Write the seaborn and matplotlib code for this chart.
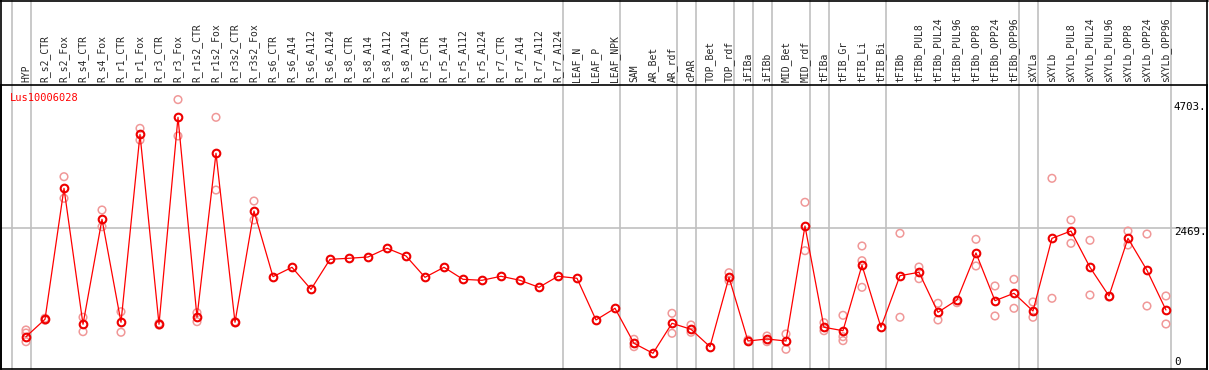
import matplotlib
matplotlib.use("Agg")
import matplotlib.pyplot as plt
import seaborn as sns
import pandas as pd
from matplotlib.lines import Line2D

categories = ["HYP", "R_s2_CTR", "R_s2_Fox", "R_s4_CTR", "R_s4_Fox", "R_r1_CTR", "R_r1_Fox",
              "R_r3_CTR", "R_r3_Fox", "R_r1s2_CTR", "R_r1s2_Fox", "R_r3s2_CTR", "R_r3s2_Fox",
              "R_s6_CTR", "R_s6_A14", "R_s6_A112", "R_s6_A124", "R_s8_CTR", "R_s8_A14", "R_s8_A112",
              "R_s8_A124", "R_r5_CTR", "R_r5_A14", "R_r5_A112", "R_r5_A124", "R_r7_CTR", "R_r7_A14",
              "R_r7_A112", "R_r7_A124", "LEAF_N", "LEAF_P", "LEAF_NPK", "SAM", "AR_Bet", "AR_rdf",
              "cPAR", "TOP_Bet", "TOP_rdf", "iFIBa", "iFIBb", "MID_Bet", "MID_rdf", "tFIBa",
              "tFIB_Gr", "tFIB_Li", "tFIB_Bi", "tFIBb", "tFIBb_PUL8", "tFIBb_PUL24", "tFIBb_PUL96",
              "tFIBb_OPP8", "tFIBb_OPP24", "tFIBb_OPP96", "sXYLa", "sXYLb", "sXYLb_PUL8",
              "sXYLb_PUL24", "sXYLb_PUL96", "sXYLb_OPP8", "sXYLb_OPP24", "sXYLb_OPP96"]

means = [579, 882, 3160, 795, 2621, 830, 4099, 795, 4395, 917, 3769, 830, 2765,
         1623, 1786, 1403, 1925, 1943, 1965, 2117, 1983, 1612, 1786, 1577, 1560,
         1630, 1560, 1438, 1630, 1595, 870, 1073, 464, 290, 812, 708, 405, 1612,
         504, 539, 504, 2504, 743, 683, 1821, 743, 1640, 1699, 1003, 1217, 2035,
         1205, 1334, 1026, 2290, 2417, 1786, 1287, 2290, 1734, 1043]

replicates = {
    "HYP": [696, 643, 492], "R_s2_CTR": [900, 865], "R_s2_Fox": [3362, 2986],
    "R_s4_CTR": [917, 666], "R_s4_Fox": [2783, 2492], "R_r1_CTR": [1014, 656],
    "R_r1_Fox": [4203, 4000], "R_r3_CTR": [810, 780], "R_r3_Fox": [4703, 4070],
    "R_r1s2_CTR": [997, 840], "R_r1s2_Fox": [4395, 3130], "R_r3s2_CTR": [840, 820],
    "R_r3s2_Fox": [2939, 2609], "SAM": [534, 405], "AR_rdf": [986, 638],
    "cPAR": [783, 656], "TOP_rdf": [1692, 1553], "iFIBa": [522], "iFIBb": [591, 492],
    "MID_Bet": [626, 360], "MID_rdf": [2917, 2075], "tFIBa": [823, 683],
    "tFIB_Gr": [951, 579, 510], "tFIB_Li": [2157, 1901, 1438], "tFIBb": [2377, 917],
    "tFIBb_PUL8": [1791, 1588], "tFIBb_PUL24": [1160, 870], "tFIBb_PUL96": [1170],
    "tFIBb_OPP8": [2273, 1809], "tFIBb_OPP24": [1461, 939], "tFIBb_OPP96": [1577, 1073],
    "sXYLa": [1183, 917], "sXYLb": [3334, 1247], "sXYLb_PUL8": [2609, 2203],
    "sXYLb_PUL24": [2256, 1304], "sXYLb_PUL96": [1270], "sXYLb_OPP8": [2417, 2174],
    "sXYLb_OPP24": [2365, 1113], "sXYLb_OPP96": [1287, 800],
}

group_ends = [-1, 0, 28, 31, 34, 35, 37, 38, 39, 41, 42, 45, 52, 53, 60]
y_tick_labels = ["4703.", "2469.", "0"]
gene_name = "Lus10006028"

W, H = 1209, 370
mean_df = pd.DataFrame({"idx": range(len(categories)), "value": means})
rep_rows = [(categories.index(c), v) for c, vals in replicates.items() for v in vals]
rep_df = pd.DataFrame(rep_rows, columns=["idx", "value"])

sns.set_style("white")
plt.rcParams["font.family"] = ["DejaVu Sans Mono"]

fig = plt.figure(figsize=(W / 100, H / 100), dpi=100)
ax = fig.add_axes([1 / W, 1 - 369 / H, 1206 / W, 284 / H])

# grid lines
for g in group_ends:
    ax.axvline(g + 0.25, ymin=0, ymax=1 + 85 / 284, color="#c0c0c0", lw=1.2,
               clip_on=False, zorder=0)
ax.axhline(2469, color="#c0c0c0", lw=1.2, zorder=0)

sns.scatterplot(data=rep_df, x="idx", y="value", ax=ax, marker="o", s=30,
                facecolor="none", edgecolor="#f09898", linewidth=1.1, zorder=2)
sns.lineplot(data=mean_df, x="idx", y="value", ax=ax, color="#ff0000", lw=0.9,
             marker="o", markersize=5.5, markerfacecolor="none",
             markeredgecolor="#ee0000", markeredgewidth=1.5, zorder=3)

ax.set_xlim(-1.316, 62.16)
ax.set_ylim(17, 4957)
ax.set_xlabel("")
ax.set_ylabel("")
ax.set_yticks([])
ax.xaxis.tick_top()
ax.set_xticks(range(len(categories)))
ax.set_xticklabels(categories, rotation=90, fontsize=7, family="DejaVu Sans Mono")
ax.tick_params(axis="x", length=0, pad=2)
for s in ax.spines.values():
    s.set_color("black")
    s.set_linewidth(1.2)

ax.text(0.0075, 0.955, gene_name, transform=ax.transAxes, color="#ff0000",
        fontsize=7.5, va="center", ha="left", family="DejaVu Sans Mono")

for lbl, ypx in zip(y_tick_labels, [107, 232, 362]):
    fig.text(1174 / W, 1 - ypx / H, lbl, fontsize=7.8, va="center", ha="left",
             family="DejaVu Sans Mono", color="black")

# outer frame
fig.add_artist(Line2D([0, 1207.5 / W], [1 - 0.6 / H, 1 - 0.6 / H], color="black", lw=1.2,
                      transform=fig.transFigure))
fig.add_artist(Line2D([1.2 / W, 1.2 / W], [1 - 369 / H, 1], color="black", lw=1.2,
                      transform=fig.transFigure))
fig.add_artist(Line2D([1207 / W, 1207 / W], [1 - 369 / H, 1], color="black", lw=1.2,
                      transform=fig.transFigure))

fig.savefig("out.png", dpi=100)
